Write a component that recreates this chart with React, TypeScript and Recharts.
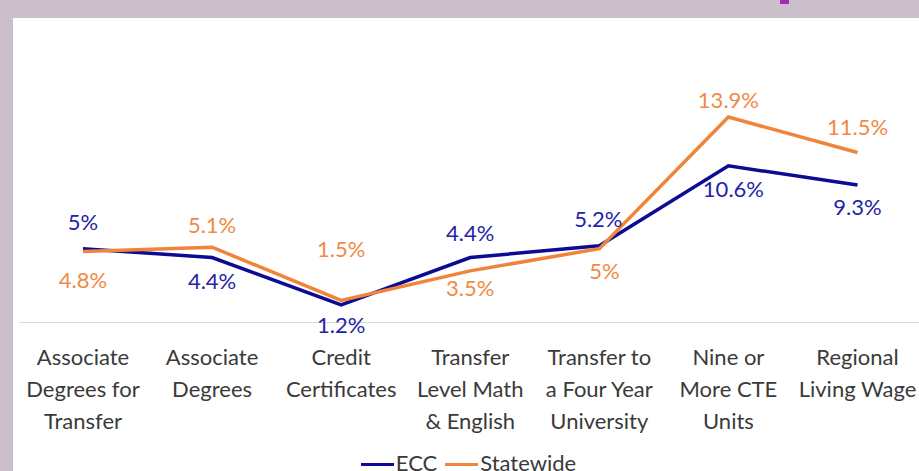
import { LineChart, Line, XAxis, YAxis, Legend } from 'recharts';

// Outcome rates, ECC vs statewide (percent)
const categories = [
  'Associate\nDegrees for\nTransfer',
  'Associate\nDegrees',
  'Credit\nCertificates',
  'Transfer\nLevel Math\n& English',
  'Transfer to\na Four Year\nUniversity',
  'Nine or\nMore CTE\nUnits',
  'Regional\nLiving Wage',
];
const eccValues = [5, 4.4, 1.2, 4.4, 5.2, 10.6, 9.3];
const statewideValues = [4.8, 5.1, 1.5, 3.5, 5, 13.9, 11.5];

// label placement relative to each point (px, + is down)
const eccLabelDy = [-27, 23.5, 20, -25, -27, 23, 22];
const eccLabelDx = [0, 0, 0, 0, -1, 5, 0];
const stateLabelDy = [28, -22, -51, 17.5, 22, -17, -26];
const stateLabelDx = [0, 0, 0, 0, 5, 0, 0];

const ECC_LINE = '#0B0B94';
const ECC_TEXT = '#2424A8';
const STATE_LINE = '#F0843A';
const STATE_TEXT = '#F08A44';
const FONT = 'Lato, "Open Sans", sans-serif';

const data = categories.map((name, i) => ({
  name,
  ecc: eccValues[i],
  statewide: statewideValues[i],
}));

function CategoryTick({ x, y, payload }: any) {
  const lines = String(payload.value).split('\n');
  return (
    <text x={x} y={y} textAnchor="middle" fill="#3a3a3a" fontSize={22} fontFamily={FONT}>
      {lines.map((ln, i) => (
        <tspan key={i} x={x} y={y + 42.5 + i * 32}>
          {ln}
        </tspan>
      ))}
    </text>
  );
}

function makeLabel(color: string, dys: number[], dxs: number[]) {
  return (p: any) => {
    const { x, y, value, index } = p;
    return (
      <text
        key={`lbl-${index}`}
        x={x + dxs[index]}
        y={y + dys[index] + 8}
        textAnchor="middle"
        fill={color}
        fontSize={22}
        fontFamily={FONT}
      >
        {`${value}%`}
      </text>
    );
  };
}

function LegendContent() {
  const items = [
    { label: 'ECC', color: ECC_LINE },
    { label: 'Statewide', color: STATE_LINE },
  ];
  return (
    <div
      style={{
        display: 'flex',
        justifyContent: 'center',
        alignItems: 'center',
        height: 24,
        lineHeight: '24px',
        fontFamily: FONT,
        fontSize: 22,
        color: '#3a3a3a',
      }}
    >
      {items.map((it) => (
        <div key={it.label} style={{ display: 'flex', alignItems: 'center', marginRight: 8 }}>
          <span
            style={{
              display: 'inline-block',
              width: 33,
              height: 3,
              backgroundColor: it.color,
              marginRight: 2,
              marginTop: 3,
            }}
          />
          <span>{it.label}</span>
        </div>
      ))}
    </div>
  );
}

export default function App() {
  return (
    <div
      style={{
        position: 'fixed',
        left: 0,
        top: 0,
        width: 919,
        height: 471,
        overflow: 'hidden',
        backgroundColor: '#CBBFCB',
      }}
    >
      <div
        style={{ position: 'absolute', left: 780, top: 0, width: 9, height: 4, backgroundColor: '#9C2DB0' }}
      />
      <div
        style={{
          position: 'absolute',
          left: 13,
          top: 18,
          width: 906,
          height: 453,
          backgroundColor: '#ffffff',
          overflow: 'hidden',
        }}
      >
        <LineChart
          width={909}
          height={460}
          data={data}
          margin={{ top: 68, right: 0, bottom: 0, left: 6 }}
        >
          <XAxis
            dataKey="name"
            interval={0}
            height={155.4}
            padding={{ left: 64, right: 64.5 }}
            tickLine={false}
            tickSize={0}
            tickMargin={0}
            axisLine={{ stroke: '#D9D9D9', strokeWidth: 1 }}
            tick={<CategoryTick />}
          />
          <YAxis hide domain={[0, 16]} />
          <Legend
            layout="horizontal"
            verticalAlign="middle"
            align="center"
            content={<LegendContent />}
            wrapperStyle={{ top: 432.5, left: 5, width: 909 }}
          />
          <Line
            type="linear"
            dataKey="ecc"
            name="ECC"
            stroke={ECC_LINE}
            strokeWidth={3.5}
            dot={false}
            isAnimationActive={false}
            label={makeLabel(ECC_TEXT, eccLabelDy, eccLabelDx)}
          />
          <Line
            type="linear"
            dataKey="statewide"
            name="Statewide"
            stroke={STATE_LINE}
            strokeWidth={3.5}
            dot={false}
            isAnimationActive={false}
            label={makeLabel(STATE_TEXT, stateLabelDy, stateLabelDx)}
          />
        </LineChart>
      </div>
    </div>
  );
}
